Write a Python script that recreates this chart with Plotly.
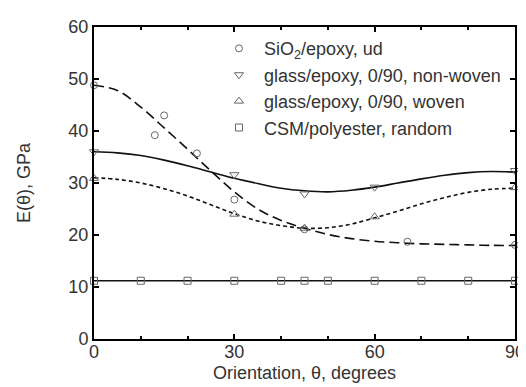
import plotly.graph_objects as go

sio2_theta = [0, 13, 15, 22, 30, 45, 67, 90]
sio2_E = [48.8, 39.2, 43.0, 35.7, 26.8, 21.1, 18.7, 18.1]

nonwoven_theta = [0, 30, 45, 60, 90]
nonwoven_E = [36.0, 31.6, 27.9, 29.2, 32.4]

woven_theta = [0, 30, 45, 60, 90]
woven_E = [30.9, 24.0, 21.3, 23.5, 29.1]

csm_theta = [0, 10, 20, 30, 40, 45, 50, 60, 70, 80, 90]
csm_E = [11.2, 11.2, 11.2, 11.2, 11.2, 11.2, 11.2, 11.2, 11.2, 11.2, 11.2]

# ---- fitted curves ----
curve_theta = [0, 5, 10, 15, 20, 25, 30, 35, 40, 45, 50, 55, 60, 65, 70, 75, 80, 85, 90]
sio2_fit = [48.8, 47.8, 44.6, 40.6, 36.5, 32.3, 28.3, 25.0, 22.8, 21.3, 20.1, 19.3, 18.8, 18.5, 18.3, 18.2, 18.1, 18.0, 18.0]
nonwoven_fit = [36.0, 35.8, 35.3, 34.4, 33.3, 32.1, 30.9, 29.9, 29.0, 28.5, 28.3, 28.6, 29.2, 30.0, 30.8, 31.5, 32.0, 32.2, 32.1]
woven_fit = [31.0, 30.7, 30.0, 28.9, 27.5, 25.8, 24.1, 22.7, 21.8, 21.3, 21.4, 22.1, 23.3, 24.6, 26.0, 27.2, 28.2, 28.8, 29.0]
csm_fit = [11.2] * len(curve_theta)

legend_names = ["SiO<sub>2</sub>/epoxy, ud",
                "glass/epoxy, 0/90, non-woven",
                "glass/epoxy, 0/90, woven",
                "CSM/polyester, random"]

x_ticks = [0, 30, 60, 90]
y_ticks = [0, 10, 20, 30, 40, 50, 60]

FONT = "Arial, Liberation Sans, sans-serif"
TXT = "#333333"
MK = "#666666"

fig = go.Figure()

# fitted lines
fig.add_trace(go.Scatter(x=curve_theta, y=sio2_fit, mode="lines", line_shape="spline",
                         line=dict(color="#111111", width=1.6, dash="10px,5px"),
                         showlegend=False, hoverinfo="skip"))
fig.add_trace(go.Scatter(x=curve_theta, y=nonwoven_fit, mode="lines", line_shape="spline",
                         line=dict(color="#111111", width=1.6),
                         showlegend=False, hoverinfo="skip"))
fig.add_trace(go.Scatter(x=curve_theta, y=woven_fit, mode="lines", line_shape="spline",
                         line=dict(color="#111111", width=1.6, dash="4px,3px"),
                         showlegend=False, hoverinfo="skip"))
fig.add_trace(go.Scatter(x=curve_theta, y=csm_fit, mode="lines",
                         line=dict(color="#111111", width=1.6),
                         showlegend=False, hoverinfo="skip"))

# data markers
series = [
    (sio2_theta, sio2_E, "circle-open", 7),
    (nonwoven_theta, nonwoven_E, "triangle-down-open", 8),
    (woven_theta, woven_E, "triangle-up-open", 8),
    (csm_theta, csm_E, "square-open", 7),
]
for (xs, ys, sym, sz), name in zip(series, legend_names):
    fig.add_trace(go.Scatter(x=xs, y=ys, mode="markers", name=name,
                             marker=dict(symbol=sym, size=sz, color=MK,
                                         line=dict(width=1, color=MK)),
                             cliponaxis=False))

axis_common = dict(showline=True, linecolor="black", linewidth=2, mirror="ticks",
                   ticks="inside", tickcolor="black", tickwidth=2, ticklen=5,
                   showgrid=False, zeroline=False,
                   tickfont=dict(family=FONT, size=18, color=TXT),
                   title_font=dict(family=FONT, size=18, color=TXT))

fig.update_xaxes(range=[0, 90], tickvals=x_ticks,
                 minor=dict(dtick=10, ticks="inside", ticklen=3, tickwidth=1.5, tickcolor="black"),
                 title_text="Orientation, θ, degrees", title_standoff=6,
                 ticklabelstandoff=-5,
                 **axis_common)
fig.update_yaxes(range=[0, 60], tickvals=y_ticks,
                 title_text="E(θ), GPa", title_standoff=33,
                 **axis_common)

fig.update_layout(
    width=526, height=387,
    margin=dict(l=86, r=9, t=18, b=56),
    paper_bgcolor="white", plot_bgcolor="white",
    font=dict(family=FONT, color=TXT),
    legend=dict(x=0.285, y=0.99, xanchor="left", yanchor="top", itemwidth=40,
                bgcolor="rgba(0,0,0,0)", font=dict(family=FONT, size=18, color=TXT),
                tracegroupgap=0),
    showlegend=True,
)

fig.write_html("out.html")
